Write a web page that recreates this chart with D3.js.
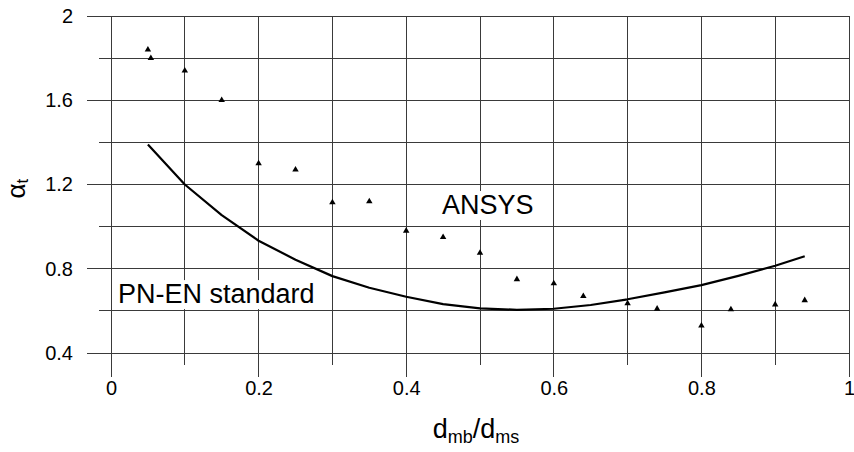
<!DOCTYPE html>
<html>
<head>
<meta charset="utf-8">
<script src="https://cdn.jsdelivr.net/npm/d3@7"></script>
<style>
  html, body { margin: 0; padding: 0; background: #fff; }
  svg { display: block; font-family: "Liberation Sans", Arial, sans-serif; }
</style>
</head>
<body>
<svg id="chart" width="854" height="452"></svg>
<script>
// Ratio of bore diameters vs. stress concentration factor
const ansysX = [0.05, 0.054, 0.1, 0.15, 0.2, 0.25, 0.3, 0.35, 0.4, 0.45, 0.5, 0.55, 0.6, 0.64, 0.7, 0.74, 0.8, 0.84, 0.9, 0.94];
const ansysY = [1.84, 1.80, 1.74, 1.60, 1.30, 1.27, 1.115, 1.12, 0.98, 0.95, 0.875, 0.75, 0.73, 0.67, 0.635, 0.61, 0.53, 0.607, 0.63, 0.65];

const standardX = [0.05, 0.1, 0.15, 0.2, 0.25, 0.3, 0.35, 0.4, 0.45, 0.5, 0.55, 0.6, 0.65, 0.7, 0.75, 0.8, 0.85, 0.9, 0.94];
const standardY = [1.39, 1.20, 1.055, 0.933, 0.843, 0.765, 0.71, 0.667, 0.632, 0.612, 0.605, 0.61, 0.628, 0.655, 0.688, 0.722, 0.766, 0.814, 0.859];

const xGrid = [0, 0.1, 0.2, 0.3, 0.4, 0.5, 0.6, 0.7, 0.8, 0.9, 1];
const xTickLabels = [0, 0.2, 0.4, 0.6, 0.8, 1];
const yGrid = [0.4, 0.6, 0.8, 1.0, 1.2, 1.4, 1.6, 1.8, 2.0];
const yTickLabels = [0.4, 0.8, 1.2, 1.6, 2];

const margin = { left: 111, top: 16, right: 5, bottom: 99 };
const svg = d3.select("#chart");
const W = 854 - margin.left - margin.right;
const H = 452 - margin.top - margin.bottom;

const x = d3.scaleLinear().domain([0, 1]).range([0, W]);
const y = d3.scaleLinear().domain([0.4, 2]).range([H, 0]);

const g = svg.append("g").attr("transform", `translate(${margin.left},${margin.top})`);

const isMajor = (v, list) => list.some(t => Math.abs(t - v) < 1e-9);
const gridColor = "#3a3a3a";

// vertical grid lines, continuing below the frame as ticks
g.append("g").selectAll("line").data(xGrid).join("line")
  .attr("x1", d => x(d)).attr("x2", d => x(d))
  .attr("y1", 0)
  .attr("y2", d => H + (isMajor(d, xTickLabels) ? 24 : 12))
  .attr("stroke", gridColor).attr("stroke-width", 1)
  .attr("shape-rendering", "crispEdges");

// horizontal grid lines, continuing left of the frame as ticks
g.append("g").selectAll("line").data(yGrid).join("line")
  .attr("y1", d => y(d)).attr("y2", d => y(d))
  .attr("x1", d => -(isMajor(d, yTickLabels) ? 24 : 12))
  .attr("x2", W)
  .attr("stroke", gridColor).attr("stroke-width", 1)
  .attr("shape-rendering", "crispEdges");

// axis labels
const fmt = d3.format("~g");
const xAxis = g.append("g").attr("transform", `translate(0,${H})`)
  .call(d3.axisBottom(x).tickValues(xTickLabels).tickFormat(fmt).tickSize(0).tickPadding(28));
const yAxis = g.append("g")
  .call(d3.axisLeft(y).tickValues(yTickLabels).tickFormat(fmt).tickSize(0).tickPadding(38));
[xAxis, yAxis].forEach(a => {
  a.select(".domain").remove();
  a.selectAll("text").attr("font-size", 20).attr("fill", "#000")
    .attr("font-family", "'Liberation Sans', Arial, sans-serif");
});

// PN-EN standard curve
const line = d3.line().x(d => x(d[0])).y(d => y(d[1]));
g.append("path")
  .datum(d3.zip(standardX, standardY))
  .attr("d", line)
  .attr("fill", "none").attr("stroke", "#000").attr("stroke-width", 2.2)
  .attr("stroke-linejoin", "round");

// ANSYS results
const tri = d3.symbol().type(d3.symbolTriangle).size(18);
g.append("g").selectAll("path").data(d3.zip(ansysX, ansysY)).join("path")
  .attr("d", tri)
  .attr("transform", d => `translate(${x(d[0])},${y(d[1])})`)
  .attr("fill", "#000");

// series annotations with white backing
function note(text, vx, vy) {
  const grp = g.append("g");
  const t = grp.append("text")
    .attr("x", x(vx)).attr("y", y(vy))
    .attr("font-size", 27).attr("fill", "#000")
    .text(text);
  const b = t.node().getBBox();
  grp.insert("rect", "text")
    .attr("x", b.x - 3).attr("y", b.y + 1)
    .attr("width", b.width + 6).attr("height", b.height - 1)
    .attr("fill", "#fff");
}
note("ANSYS", 0.4485, 1.06);
note("PN-EN standard", 0.0095, 0.637);

// axis titles
const xt = svg.append("text")
  .attr("x", margin.left + W / 2 - 4).attr("y", 438)
  .attr("text-anchor", "middle").attr("font-size", 27).attr("fill", "#000");
xt.append("tspan").text("d");
xt.append("tspan").attr("font-size", 18).attr("dy", 5).text("mb");
xt.append("tspan").attr("dy", -5).text("/d");
xt.append("tspan").attr("font-size", 18).attr("dy", 5).text("ms");

const yt = svg.append("text")
  .attr("transform", `translate(25,${margin.top + y(1.18)}) rotate(-90)`)
  .attr("text-anchor", "middle").attr("font-size", 26).attr("fill", "#000");
yt.append("tspan").text("α");
yt.append("tspan").attr("font-size", 17).attr("dy", 3).text("t");
</script>
</body>
</html>
